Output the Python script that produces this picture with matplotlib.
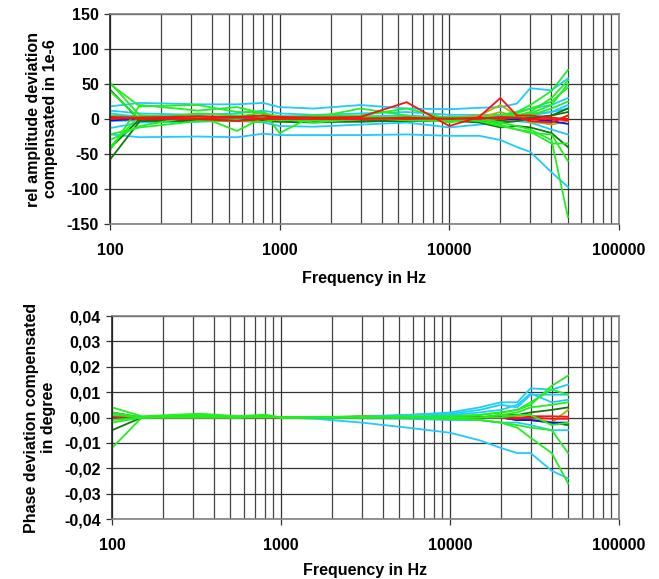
import matplotlib.pyplot as plt
from matplotlib.ticker import FixedLocator, FuncFormatter, NullFormatter

plt.rcParams['font.family'] = ['Liberation Sans', 'DejaVu Sans']
plt.rcParams['font.weight'] = 'bold'

freq = [100, 150, 330, 560, 800, 1000, 1600, 3000, 5600, 10000,
        15000, 20000, 25000, 30000, 40000, 50000]

# relative amplitude deviation, 1e-6
amp_cyan = [
    [18, 23, 21, 21, 23, 17, 15, 20, 15, 14, 16, 17, 22, 44, 41, 58],
    [-22, -26, -25, -26, -21, -23, -23, -23, -22, -24, -24, -30, -40, -47, -76, -97],
    [12, 8, 6, 8, 12, 8, 6, 8, 10, 6, 6, 6, 10, 15, 20, 30],
    [-13, -5, -4, -2, -5, -10, -11, -8, -5, -12, -8, -5, -3, -5, -15, -22],
    [8, 3, 2, 3, 5, 4, 3, 4, 5, 2, 3, 2, 4, 8, 10, 20],
    [-3, -2, -3, -2, 2, 0, 1, 0, -3, -3, -4, 2, 2, 5, 10, 15],
]
amp_lime = [
    [52, 5, 3, 2, 10, 0, 2, 15, 5, -5, 2, 5, 10, 20, 40, 70],
    [50, 18, 20, 10, 10, -20, 5, 5, 15, 0, 0, 0, 5, 10, 30, 55],
    [-45, 20, 12, 17, 8, 4, 2, 3, 2, 3, 2, -5, -10, -15, -30, -140],
    [-30, -10, 5, -17, 2, 0, -5, 0, 3, 0, -3, -10, -15, -20, -22, -60],
    [40, 0, 8, 5, 5, 3, 5, 3, 2, 0, 0, 2, 8, 15, 25, 45],
    [-22, -12, -3, -3, -4, 0, -2, 0, 0, 1, 0, -8, -15, -18, -35, -35],
    [-40, 5, 2, 0, 3, -2, 0, 2, -2, -3, 0, 3, 5, 8, 20, 50],
    [5, 3, 0, 2, 0, 0, 1, 0, 1, -2, 0, 0, 3, 5, 15, 25],
]
amp_dark = [
    [42, -2, -3, -2, -3, -4, -5, -3, -3, -2, -5, -12, -10, -12, -20, -40],
    [-58, -3, -2, -3, -2, -3, -3, -4, -2, -1, -3, -5, -3, 0, 5, 10],
    [-42, 0, 1, 0, 1, 0, 0, 0, 1, 0, 0, -2, 0, 2, 5, 15],
]
amp_red = [
    [3, 2, 4, 3, 5, 2, 2, 3, 24, -10, 3, 30, 5, 5, 2, 0],
    [2, 0, 0, -3, 0, 0, 0, 0, 2, 0, 2, 0, 2, 0, 0, -2],
    [0, 2, 1, 2, 1, 3, 2, 1, 0, 1, 0, 3, 2, -3, -5, 5],
]
amp_olive = [
    [0, 0, 0, 1, 0, 0, 2, 0, 0, 2, 5, 20, 5, -5, -5, 5],
    [1, 0, 0, 0, 0, 0, 0, 2, 0, 0, 2, 10, 3, -3, -8, -3],
]
amp_blue = [
    [-2, 0, 0, 0, 0, 0, 0, 0, 0, 0, 0, 0, 0, 0, -3, -7],
]

# phase deviation, degree
ph_cyan = [
    [0, 0, 0, 0, 0, 0, 0, 0.0005, 0.001, 0.002, 0.004, 0.006, 0.006, 0.0115, 0.011, 0.013],
    [0, 0, 0, 0, 0, 0, -0.0005, -0.002, -0.004, -0.006, -0.009, -0.012, -0.014, -0.014, -0.021, -0.024],
    [0, 0, 0, 0, 0, 0, 0, 0.0003, 0.001, 0.0015, 0.003, 0.005, 0.004, 0.009, 0.009, 0.009],
    [0.001, 0, 0, 0, 0, 0, 0, 0, 0, 0.001, 0.002, 0.003, 0.005, 0.0095, 0.006, 0.007],
    [0, 0, 0, 0, 0, 0, 0, -0.0003, -0.0005, -0.001, -0.001, -0.002, -0.002, -0.003, -0.005, -0.005],
]
ph_lime = [
    [0.004, 0.0005, 0.0015, 0.0005, 0.001, 0, 0.0003, 0.0003, 0.0005, 0.0005, 0.001, 0.002, 0.003, 0.005, 0.0125, 0.0165],
    [-0.012, 0, 0, 0, 0.0005, 0, 0, 0, 0, 0, -0.001, -0.002, -0.004, -0.008, -0.014, -0.026],
    [-0.002, 0, 0.0005, 0, 0.001, 0, 0, 0, 0, -0.0005, -0.001, -0.002, -0.003, -0.004, -0.005, -0.014],
    [0.001, 0, 0.001, 0.0005, 0.001, 0, 0, 0.0003, 0, 0.0005, 0.001, 0.002, 0.003, 0.006, 0.011, 0.009],
    [0.002, 0, 0.0005, 0, 0.0005, 0, 0, 0, 0, 0, 0, 0.001, 0.002, 0.004, 0.005, 0.006],
    [-0.001, 0, 0, 0, 0, 0, 0, 0, 0, 0, 0, 0, 0.001, 0.001, -0.003, -0.002],
]
ph_dark = [
    [-0.005, 0, 0, 0, 0, 0, 0, 0, 0, 0, 0, 0.001, 0.001, 0.002, 0.003, 0.004],
    [0.002, 0, 0, 0, 0, 0, 0, 0, 0, 0, 0, 0, -0.001, -0.001, -0.002, -0.003],
]
ph_red = [
    [0, 0, 0, 0, 0, 0, 0, 0.0003, 0, 0, 0, 0, -0.0005, 0.0005, 0.0005, 0.0003],
    [0, 0, 0, 0, 0, 0, 0, 0, 0, 0, 0, 0, 0, 0, -0.0005, -0.0005],
]
ph_olive = [
    [0, 0, 0, 0, 0, 0, 0, 0.0005, 0, 0, 0, 0.001, 0, 0, -0.002, 0.003],
]
ph_blue = [
    [0, 0, 0, 0, 0, 0, 0, 0, 0, 0, 0, 0, -0.001, -0.001, -0.002, -0.002],
]

amp_ticks = [-150, -100, -50, 0, 50, 100, 150]
ph_ticks = [-0.04, -0.03, -0.02, -0.01, 0.0, 0.01, 0.02, 0.03, 0.04]

CYAN = '#1ECBFF'
LIME = '#22EE22'
DARK = '#117711'
RED = '#FF1010'
OLIVE = '#A8B400'
BLUE = '#1010EE'
FS = 11.5


def style_axes(ax, yticks, fmt):
    ax.set_xscale('log')
    ax.set_xlim(100, 100000)
    ax.set_ylim(yticks[0], yticks[-1])
    ax.xaxis.set_major_locator(FixedLocator([100, 1000, 10000, 100000]))
    ax.xaxis.set_minor_formatter(NullFormatter())
    ax.xaxis.set_major_formatter(FuncFormatter(lambda v, p: f'{int(v)}'))
    ax.yaxis.set_major_locator(FixedLocator(yticks))
    ax.yaxis.set_major_formatter(FuncFormatter(fmt))
    ax.grid(which='major', axis='both', color='#333333', lw=0.9)
    ax.grid(which='minor', axis='x', color='#444444', lw=0.9)
    ax.tick_params(which='minor', length=0)
    ax.tick_params(which='major', length=4, width=0.9, color='#333333',
                   labelsize=FS, pad=4)
    ax.tick_params(axis='x', pad=10)
    for s in ax.spines.values():
        s.set_color('#808080')
        s.set_linewidth(1.2)
    ax.spines['left'].set_color('#222222')
    ax.set_axisbelow(True)


def draw(ax, groups):
    for series, color in groups:
        for ys in series:
            ax.plot(freq, ys, color=color, lw=1.3, solid_joinstyle='miter')


fig = plt.figure(figsize=(6.59, 5.79), dpi=100)
ax1 = fig.add_axes([0.1669, 0.6131, 0.7724, 0.3627])
ax2 = fig.add_axes([0.1700, 0.1036, 0.7693, 0.3506])

draw(ax1, [(amp_cyan, CYAN), (amp_dark, DARK), (amp_olive, OLIVE),
           (amp_blue, BLUE), (amp_lime, LIME), (amp_red, RED)])
style_axes(ax1, amp_ticks, lambda v, p: f'{int(v)}')
ax1.set_xlabel('Frequency in Hz', fontsize=FS, fontweight='bold', labelpad=9)
ax1.set_ylabel('rel amplitude deviation\ncompensated in 1e-6', fontsize=FS,
               fontweight='bold', labelpad=6)

draw(ax2, [(ph_cyan, CYAN), (ph_dark, DARK), (ph_olive, OLIVE),
           (ph_blue, BLUE), (ph_red, RED), (ph_lime, LIME)])
style_axes(ax2, ph_ticks, lambda v, p: f'{v:.2f}'.replace('.', ','))
ax2.set_xlabel('Frequency in Hz', fontsize=FS, fontweight='bold', labelpad=7)
ax2.set_ylabel('Phase deviation compensated\nin degree', fontsize=FS,
               fontweight='bold', labelpad=6)

fig.savefig('out.png', dpi=100)
